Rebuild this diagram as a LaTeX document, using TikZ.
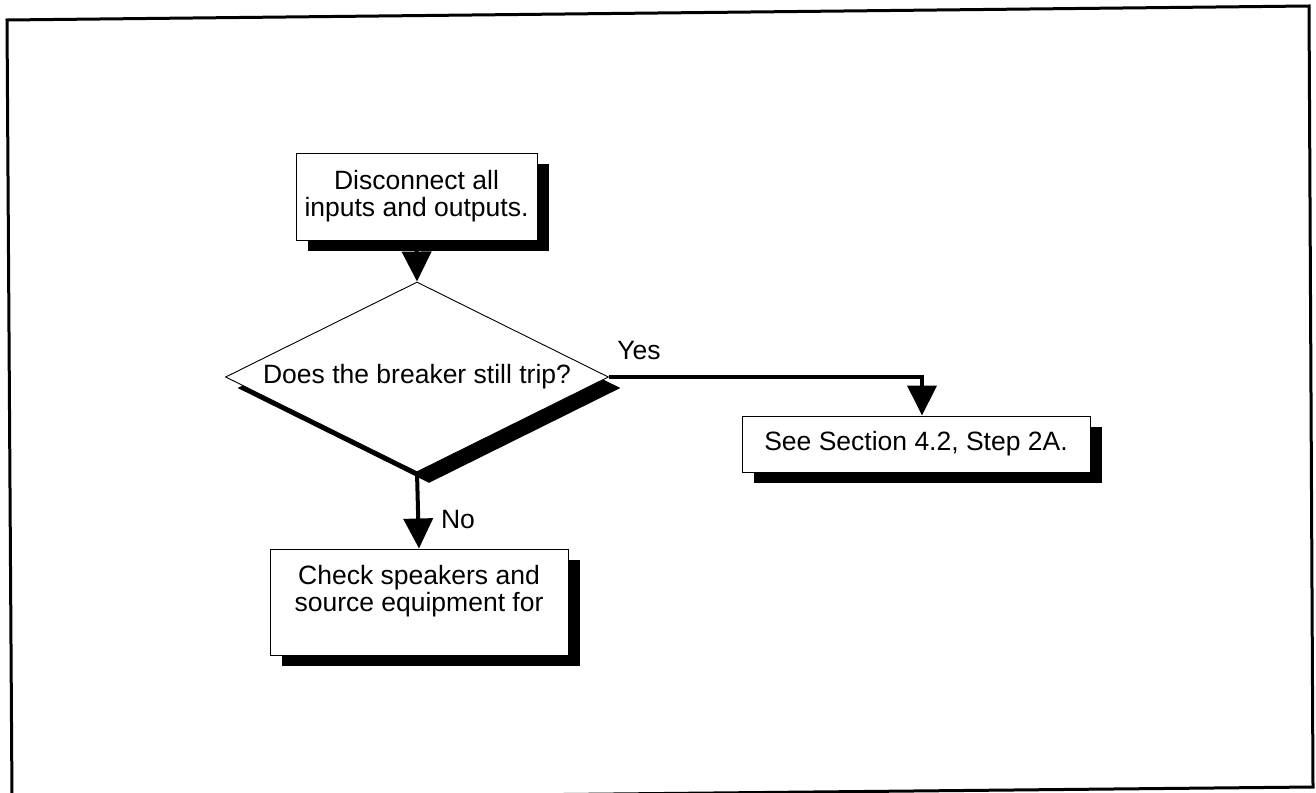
\documentclass[tikz,border=0pt]{standalone}
\usepackage{fontspec}
\setmainfont{Liberation Sans}
\usetikzlibrary{shapes.geometric,arrows.meta,shadows}
\begin{document}
\begin{tikzpicture}[x=1pt,y=-1pt,
  every node/.style={font=\fontsize{26.5}{27}\selectfont},
  boxshadow/.style={drop shadow={shadow xshift=12pt, shadow yshift=-11pt, fill=black, opacity=1}},
  boxstyle/.style={draw=black, line width=1pt, fill=white, align=center, inner sep=0pt, boxshadow},
  decision/.style={shape=diamond, shape aspect=2, draw=black, line width=0.9pt, fill=white, inner sep=0pt, minimum width=383pt, minimum height=190pt, boxshadow},
  flowarrow/.style={line width=4pt, -{Triangle[width=29pt,length=30pt]}},
  framestyle/.style={line width=3pt},
]
\useasboundingbox (0,0) rectangle (1316,792);
\begin{scope}
\clip (0,0) rectangle (1316,792);
\draw[framestyle] (7,20) -- (1309,6) -- (1313,787) -- (12,800) -- cycle;
\end{scope}

\node[boxstyle, minimum width=241pt, minimum height=87pt] (b1) at (416.5,196.5) {Disconnect all\\inputs and outputs.};
\node[decision] (dia) at (417,377) {Does the breaker still trip?};
\node[boxstyle, minimum width=348pt, minimum height=56pt] (yes) at (916,444) {See Section 4.2, Step 2A.};
\node[boxstyle, minimum width=298pt, minimum height=106pt] (no) at (419,602) {Check speakers and\\source equipment for\\~};

\draw[flowarrow] (b1.south) -- (dia.north);
\draw[flowarrow] (dia.east) -| ([xshift=6pt]yes.north);
\draw[flowarrow] (dia.south) -- (no.north);

\node (yeslbl) at (639,351) {Yes};
\node (nolbl) at (458,520) {No};
\end{tikzpicture}
\end{document}
